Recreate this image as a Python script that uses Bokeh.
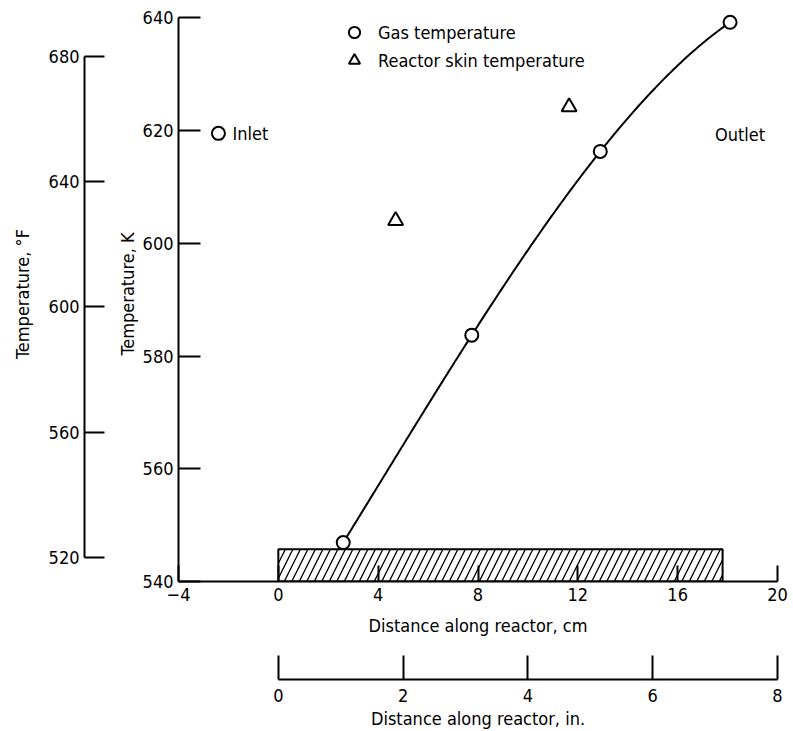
import numpy as np
from bokeh.plotting import figure
from bokeh.models import Range1d, LinearAxis, FixedTicker, Legend, LegendItem
from bokeh.core.properties import value
from bokeh.embed import file_html
from bokeh.resources import INLINE

FONT = "DejaVu Sans Condensed"

# ---------------- data ----------------
gas_x_cm = [2.6, 7.75, 12.9, 18.1]
gas_temp_k = [546.9, 583.7, 616.3, 639.2]
skin_x_cm = [4.7, 11.65]
skin_temp_k = [604.0, 624.2]
inlet_x_cm = [-2.4]
inlet_temp_k = [619.5]
outlet_label_x_cm = [18.5]
outlet_label_temp_k = [619.3]

reactor_start_cm = [0.0]
reactor_end_cm = [17.8]
reactor_bar_top_k = [545.7]

x_ticks_cm = [-4, 0, 4, 8, 12, 16, 20]
x_ticks_in = [0, 2, 4, 6, 8]
y_ticks_k = [540, 560, 580, 600, 620, 640]
y_ticks_f = [520, 560, 600, 640, 680]

x_min_cm, x_max_cm = -4, 20
y_min_k, y_max_k = 540, 640
y_headroom_k = 2          # room so the last marker is not clipped
cm_per_in_drawn = 2.5


def k_to_f(k):
    return (k - 273.15) * 9.0 / 5.0 + 32.0


p = figure(width=793, height=731,
           x_range=Range1d(x_min_cm, x_max_cm),
           y_range=Range1d(y_min_k, y_max_k + y_headroom_k),
           x_axis_type=None, y_axis_type=None,
           output_backend="svg", toolbar_location=None,
           min_border_left=178, min_border_right=16,
           min_border_top=6, min_border_bottom=150)
p.outline_line_color = None
p.background_fill_color = "white"
p.border_fill_color = "white"
p.extra_y_ranges = {"F": Range1d(k_to_f(y_min_k), k_to_f(y_max_k + y_headroom_k))}
p.extra_x_ranges = {"in": Range1d(x_min_cm / cm_per_in_drawn, x_max_cm / cm_per_in_drawn)}


def style_axis(ax, ticks, tick_in, label, label_standoff, tick_standoff):
    ax.ticker = FixedTicker(ticks=ticks)
    ax.bounds = (ticks[0], ticks[-1])
    ax.major_tick_in = tick_in
    ax.major_tick_out = 0
    ax.minor_tick_line_color = None
    ax.axis_line_color = "black"
    ax.axis_line_width = 2
    ax.major_tick_line_color = "black"
    ax.major_tick_line_width = 2
    ax.major_label_text_font = FONT
    ax.major_label_text_font_size = "18px"
    ax.major_label_text_color = "black"
    ax.major_label_standoff = tick_standoff
    ax.axis_label = label
    ax.axis_label_text_font = FONT
    ax.axis_label_text_font_size = "18px"
    ax.axis_label_text_font_style = "normal"
    ax.axis_label_text_color = "black"
    ax.axis_label_standoff = label_standoff


def spacer(size, **kw):
    ax = LinearAxis(ticker=FixedTicker(ticks=[]), **kw)
    ax.major_tick_out = 0
    ax.major_tick_in = 0
    ax.axis_line_color = None
    ax.major_tick_line_color = None
    ax.minor_tick_line_color = None
    ax.major_label_text_font_size = "0px"
    ax.axis_label = " "
    ax.axis_label_text_font_size = "1px"
    ax.axis_label_standoff = size
    return ax


cm_axis = LinearAxis()
style_axis(cm_axis, x_ticks_cm, 16, "Distance along reactor, cm", 11, 6)
in_axis = LinearAxis(x_range_name="in")
style_axis(in_axis, x_ticks_in, 24, "Distance along reactor, in.", 3, 9)

k_axis = LinearAxis()
style_axis(k_axis, y_ticks_k, 22, "Temperature, K", 2, 5)
f_axis = LinearAxis(y_range_name="F")
style_axis(f_axis, y_ticks_f, 20, "Temperature, \u00b0F", 13, 5)

p.add_layout(cm_axis, "below")
p.add_layout(spacer(37), "below")
p.add_layout(in_axis, "below")
p.add_layout(k_axis, "left")
p.add_layout(spacer(25), "left")
p.add_layout(f_axis, "left")

# reactor (hatched bar)
p.quad(left=reactor_start_cm, right=reactor_end_cm,
       bottom=[y_min_k], top=reactor_bar_top_k,
       fill_color="white", line_color="black", line_width=2,
       hatch_pattern="/", hatch_scale=15, hatch_weight=1.3, hatch_color="black")

# fitted smooth curve through gas temperatures
coef = np.polyfit(gas_x_cm, gas_temp_k, 3)
xs = np.linspace(min(gas_x_cm), max(gas_x_cm), 200)
p.line(xs, np.polyval(coef, xs), line_color="black", line_width=2)

gas_r = p.scatter(gas_x_cm, gas_temp_k, marker="circle", size=13,
                  fill_color="white", line_color="black", line_width=2)
skin_r = p.scatter(skin_x_cm, skin_temp_k, marker="triangle", size=15,
                   fill_color="white", line_color="black", line_width=2)
p.scatter(inlet_x_cm, inlet_temp_k, marker="circle", size=13,
          fill_color="white", line_color="black", line_width=2)

p.text(x=inlet_x_cm, y=inlet_temp_k, text=["Inlet"], x_offset=14,
       text_align="left", text_baseline="middle",
       text_font=value(FONT), text_font_size="18px", text_color="black")
p.text(x=outlet_label_x_cm, y=outlet_label_temp_k, text=["Outlet"],
       text_align="center", text_baseline="middle",
       text_font=value(FONT), text_font_size="18px", text_color="black")

legend = Legend(items=[LegendItem(label="Gas temperature", renderers=[gas_r]),
                       LegendItem(label="Reactor skin temperature", renderers=[skin_r])],
                location=(162, 507), padding=0, spacing=-3, margin=0,
                glyph_width=28, glyph_height=28, label_standoff=10,
                border_line_color=None, background_fill_alpha=0,
                label_text_font=FONT, label_text_font_size="18px",
                label_text_color="black")
p.add_layout(legend)

open("out.html", "w").write(file_html(p, INLINE))
